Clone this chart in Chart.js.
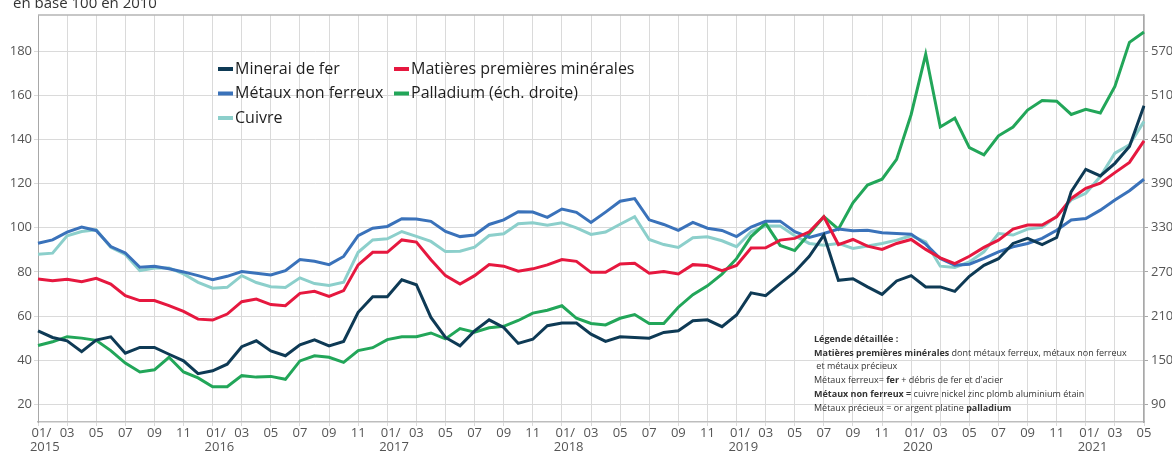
<!DOCTYPE html>
<html lang="fr">
<head>
<meta charset="utf-8">
<title>Prix des matières premières minérales</title>
<script src="https://cdn.jsdelivr.net/npm/chart.js@4.4.1/dist/chart.umd.min.js"></script>
<style>
  html, body { margin: 0; padding: 0; background: #fff; }
  #wrap { width: 1172px; height: 453px; }
</style>
</head>
<body>
<div id="wrap"><canvas id="chart" width="1172" height="453"></canvas></div>
<script>
// mois (01/2015 -> 05/2021)
const months = [
  '01/2015','02/2015','03/2015','04/2015','05/2015','06/2015','07/2015','08/2015','09/2015','10/2015','11/2015','12/2015',
  '01/2016','02/2016','03/2016','04/2016','05/2016','06/2016','07/2016','08/2016','09/2016','10/2016','11/2016','12/2016',
  '01/2017','02/2017','03/2017','04/2017','05/2017','06/2017','07/2017','08/2017','09/2017','10/2017','11/2017','12/2017',
  '01/2018','02/2018','03/2018','04/2018','05/2018','06/2018','07/2018','08/2018','09/2018','10/2018','11/2018','12/2018',
  '01/2019','02/2019','03/2019','04/2019','05/2019','06/2019','07/2019','08/2019','09/2019','10/2019','11/2019','12/2019',
  '01/2020','02/2020','03/2020','04/2020','05/2020','06/2020','07/2020','08/2020','09/2020','10/2020','11/2020','12/2020',
  '01/2021','02/2021','03/2021','04/2021','05/2021'
];

// base 100 en 2010 (échelle gauche)
const minerai = [
  53.3, 50.3, 48.8, 43.9, 49.1, 50.6, 43.2, 45.8, 45.8, 42.7, 39.7, 33.9,
  35.2, 38.2, 46.1, 48.8, 44.2, 42.0, 47.0, 49.2, 46.5, 48.5, 61.7, 68.8,
  68.8, 76.4, 74.2, 59.4, 50.3, 46.5, 53.3, 58.3, 54.8, 47.6, 49.5, 55.6,
  56.8, 56.8, 51.8, 48.5, 50.6, 50.3, 50.0, 52.6, 53.3, 57.9, 58.3, 55.2,
  60.5, 70.5, 69.2, 74.7, 80.0, 87.1, 96.7, 76.2, 76.9, 73.2, 69.8, 75.9,
  78.3, 73.2, 73.2, 71.2, 78.0, 83.0, 86.0, 92.9, 95.2, 92.4, 95.6, 116.4,
  126.5, 123.5, 129.2, 136.8, 155.3
];
const matieres = [
  76.8, 76.0, 76.7, 75.6, 77.1, 74.5, 69.2, 67.0, 67.0, 64.7, 62.1, 58.6,
  58.2, 60.9, 66.5, 67.7, 65.2, 64.7, 70.3, 71.2, 68.9, 71.5, 83.2, 88.9,
  88.9, 94.5, 93.5, 85.5, 78.3, 74.5, 78.3, 83.3, 82.6, 80.3, 81.4, 83.2,
  85.6, 84.8, 79.8, 79.8, 83.6, 83.9, 79.4, 80.2, 79.1, 83.3, 82.9, 80.6,
  82.9, 90.8, 90.9, 94.4, 95.2, 98.2, 105.0, 92.4, 94.7, 91.7, 90.2, 92.9,
  94.7, 90.2, 86.4, 83.8, 87.1, 91.1, 94.4, 99.4, 101.2, 101.2, 105.0, 113.3,
  117.9, 120.2, 125.0, 129.6, 139.4
];
const nonFerreux = [
  93.0, 94.5, 98.0, 100.3, 98.8, 91.5, 88.6, 82.1, 82.6, 81.4, 80.0, 78.3,
  76.5, 78.0, 80.2, 79.4, 78.6, 80.6, 85.6, 84.8, 83.3, 87.0, 96.4, 99.8,
  100.6, 104.1, 104.0, 102.9, 98.3, 96.0, 96.7, 101.5, 103.6, 107.3, 107.1, 104.7,
  108.5, 107.0, 102.4, 107.1, 112.0, 113.2, 103.6, 101.5, 98.8, 102.4, 99.8, 98.8,
  96.0, 100.3, 102.9, 103.0, 98.2, 95.6, 97.4, 99.4, 98.6, 98.9, 97.7, 97.4,
  97.1, 92.6, 86.1, 83.0, 83.5, 86.1, 89.1, 91.4, 92.9, 95.2, 98.9, 103.5,
  104.2, 108.0, 112.6, 116.8, 122.0
];
const cuivre = [
  88.0, 88.5, 96.4, 98.3, 99.1, 91.2, 87.9, 80.6, 81.8, 81.8, 79.1, 75.3,
  72.6, 73.0, 78.3, 75.2, 73.3, 72.9, 77.3, 74.7, 73.9, 75.3, 88.9, 94.5,
  95.0, 98.3, 96.1, 93.8, 89.2, 89.4, 91.2, 96.5, 97.3, 101.8, 102.3, 101.1,
  102.3, 100.0, 97.0, 98.1, 101.6, 105.0, 94.7, 92.4, 91.1, 95.5, 95.9, 94.1,
  91.4, 98.2, 100.8, 100.8, 96.4, 92.9, 92.1, 92.9, 90.6, 91.7, 92.9, 94.4,
  96.4, 93.6, 82.6, 82.0, 84.5, 89.1, 97.4, 96.7, 99.4, 100.2, 105.3, 112.6,
  115.6, 123.2, 133.8, 137.6, 148.2
];
// échelle droite
const palladium = [
  170, 175, 182, 180, 177, 163, 146, 134, 137, 154, 134, 126,
  114, 114, 129, 127, 128, 124, 149, 156, 154, 147, 163, 167,
  178, 182, 182, 187, 179, 193, 188, 194, 196, 204, 214, 218,
  224, 207, 200, 198, 207, 212, 200, 200, 222, 239, 251, 267,
  288, 318, 336, 306, 299, 322, 345, 328, 364, 388, 396, 423,
  484, 566, 467, 479, 439, 429, 455, 467, 490, 503, 502, 484,
  491, 486, 522, 582, 596
];

const leftTicks = [20, 40, 60, 80, 100, 120, 140, 160, 180];
const rightTicks = [90, 150, 210, 270, 330, 390, 450, 510, 570];

const seriesNames = ['Minerai de fer', 'Matières premières minérales', 'Métaux non ferreux', 'Palladium (éch. droite)', 'Cuivre'];
const seriesColors = ['#0e3a55', '#e6183f', '#3a72ba', '#22a659', '#8ccfcb'];

const noteLines = [
  [['Légende détaillée :', true]],
  [['Matières premières minérales', true], [' dont métaux ferreux, métaux non ferreux', false]],
  [[' et métaux précieux', false]],
  [['Métaux ferreux= ', false], ['fer', true], [' + débris de fer et d\'acier', false]],
  [['Métaux non ferreux =', true], [' cuivre nickel zinc plomb aluminium étain', false]],
  [['Métaux précieux = or argent platine ', false], ['palladium', true]]
];

const FONT = '"Open Sans", "Noto Sans", sans-serif';

const line = (label, data, color, axis) => ({
  label, data, yAxisID: axis,
  borderColor: color, backgroundColor: color,
  borderWidth: 3, pointRadius: 0, tension: 0, fill: false
});

const decorations = {
  id: 'decorations',
  beforeDatasetsDraw(chart) {
    const { ctx, chartArea: a } = chart;
    ctx.save();
    ctx.strokeStyle = '#b4b4b4';
    ctx.lineWidth = 1.5;
    ctx.beginPath();
    ctx.moveTo(a.left, a.top);
    ctx.lineTo(a.right, a.top);
    ctx.stroke();
    ctx.restore();
  },
  afterDraw(chart) {
    const { ctx } = chart;
    ctx.save();
    // titre coupé en haut
    ctx.fillStyle = '#333';
    ctx.font = '15px ' + FONT;
    ctx.textBaseline = 'alphabetic';
    ctx.fillText('en base 100 en 2010', 13, 7.5);

    // légende
    const cols = [218, 394];
    const rows = [69, 93.5, 118];
    ctx.font = '16px ' + FONT;
    ctx.textBaseline = 'middle';
    seriesNames.forEach((name, k) => {
      const x = cols[k % 2], y = rows[Math.floor(k / 2)];
      ctx.fillStyle = seriesColors[k];
      ctx.fillRect(x, y - 2, 15, 4);
      ctx.fillStyle = '#1e1e1e';
      ctx.fillText(name, x + 17, y);
    });

    // légende détaillée
    const nx = 814;
    const ny = [339, 353, 366.5, 380, 394, 408];
    ctx.fillStyle = '#333';
    noteLines.forEach((runs, i) => {
      let x = nx;
      runs.forEach(([t, bold]) => {
        ctx.font = (bold ? 'bold ' : '') + '9px ' + FONT;
        ctx.fillText(t, x, ny[i]);
        x += ctx.measureText(t).width;
      });
    });
    ctx.restore();
  }
};

new Chart(document.getElementById('chart'), {
  type: 'line',
  data: {
    labels: months,
    datasets: [
      line(seriesNames[0], minerai, seriesColors[0], 'y'),
      line(seriesNames[1], matieres, seriesColors[1], 'y'),
      line(seriesNames[2], nonFerreux, seriesColors[2], 'y'),
      line(seriesNames[3], palladium, seriesColors[3], 'y2'),
      line(seriesNames[4], cuivre, seriesColors[4], 'y')
    ]
  },
  options: {
    responsive: false,
    animation: false,
    layout: { padding: { top: 15, left: 0, right: 0, bottom: 0 } },
    plugins: { legend: { display: false }, title: { display: false }, tooltip: { enabled: false } },
    scales: {
      x: {
        type: 'category',
        offset: false,
        grid: {
          color: (c) => (c.index % 2 === 0 ? '#dadada' : 'rgba(0,0,0,0)'),
          tickLength: 4
        },
        border: { color: '#bdbdbd', width: 1.5 },
        ticks: {
          autoSkip: false, maxRotation: 0, padding: 0,
          color: '#555', font: { family: FONT, size: 13, lineHeight: 1.1 },
          callback: function (v, i) {
            if (i % 2) return '';
            const [m, y] = months[i].split('/');
            // libellé de janvier décalé vers la droite comme l'original
            return m === '01' ? ['  01/', '    ' + y] : m;
          }
        },
        afterFit: (s) => { s.height = 31; }
      },
      y: {
        position: 'left',
        min: 12, max: 196.4,
        afterBuildTicks: (s) => { s.ticks = leftTicks.map((v) => ({ value: v })); },
        grid: { color: '#dadada', tickLength: 4 },
        border: { color: '#a8a8a8', width: 1 },
        ticks: { padding: 2, color: '#555', font: { family: FONT, size: 13 } },
        afterFit: (s) => { s.width = 38; }
      },
      y2: {
        position: 'right',
        min: 66, max: 619.2,
        afterBuildTicks: (s) => { s.ticks = rightTicks.map((v) => ({ value: v })); },
        grid: { drawOnChartArea: false, color: '#a8a8a8', tickLength: 4 },
        border: { color: '#a8a8a8', width: 1.5 },
        ticks: { padding: 3, color: '#555', font: { family: FONT, size: 13 } },
        afterFit: (s) => { s.width = 28; }
      }
    }
  },
  plugins: [decorations]
});
</script>
</body>
</html>
